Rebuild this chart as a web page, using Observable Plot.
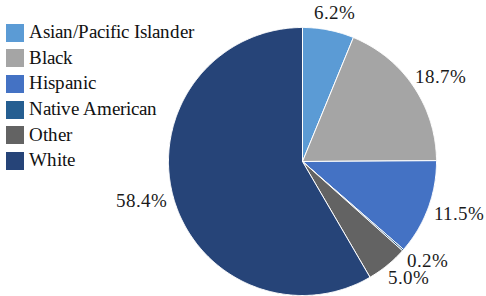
<!DOCTYPE html>
<html>
<head>
<meta charset="utf-8">
<script src="https://cdn.jsdelivr.net/npm/d3@7"></script>
<script src="https://cdn.jsdelivr.net/npm/@observablehq/plot@0.6"></script>
<style>
  @font-face { font-family: 'ChartSerif'; src: local('Liberation Serif'), local('LiberationSerif'), local('Liberation Serif Regular'), local('LiberationSerif-Regular'); }
  html, body { margin: 0; padding: 0; background: #fff; font-family: 'ChartSerif', 'Liberation Serif', serif; }
  #wrap { position: relative; width: 486px; height: 296px; overflow: hidden; }
  #legend { position: absolute; left: 6px; top: 20px; font-family: 'ChartSerif', 'Liberation Serif', serif; font-size: 18.5px; color: #111; }
  .item { display: flex; align-items: center; height: 25.6px; white-space: nowrap; }
  .sw { width: 18px; height: 18px; margin-right: 5px; flex: none; }
  #chart { position: absolute; left: 0; top: 0; }
</style>
</head>
<body>
<div id="wrap">
  <div id="chart"></div>
  <div id="legend"></div>
</div>
<script>
const categories = ["Asian/Pacific Islander", "Black", "Hispanic", "Native American", "Other", "White"];
const shares = [6.2, 18.7, 11.5, 0.2, 5.0, 58.4];
const colors = ["#5B9BD5", "#A5A5A5", "#4472C4", "#255E91", "#636363", "#264478"];
const labels = ["6.2%", "18.7%", "11.5%", "0.2%", "5.0%", "58.4%"];

const FONT = "'ChartSerif', 'Liberation Serif', serif";
const W = 486, H = 296;
const cxPx = 302, cyPx = 161, rPx = 134;
const xDomain = [-cxPx / rPx, (W - cxPx) / rPx];
const yDomain = [-(H - cyPx) / rPx, cyPx / rPx];

const arcs = d3.pie().sort(null).value(d => d.v)(categories.map((c, i) => ({c, v: shares[i], label: labels[i]})));

const pts = [];
for (const a of arcs) {
  const c = a.data.c;
  pts.push({c, x: 0, y: 0});
  const n = Math.max(2, Math.ceil((a.endAngle - a.startAngle) / (Math.PI / 360)));
  for (let k = 0; k <= n; k++) {
    const t = a.startAngle + (a.endAngle - a.startAngle) * k / n;
    pts.push({c, x: Math.sin(t), y: Math.cos(t)});
  }
  pts.push({c, x: 0, y: 0});
}

const lab = arcs.map(a => {
  const m = (a.startAngle + a.endAngle) / 2;
  const s = Math.sin(m), co = Math.cos(m);
  const r = 1 + 10 / rPx;
  return {label: a.data.label, x: r * s + (23 / rPx) * s, y: r * co + (7 / rPx) * co};
});

const plot = Plot.plot({
  width: W, height: H,
  margin: 0,
  x: {domain: xDomain, axis: null},
  y: {domain: yDomain, axis: null},
  color: {domain: categories, range: colors},
  style: {background: "transparent", fontFamily: FONT},
  marks: [
    Plot.line(pts, {x: "x", y: "y", z: "c", fill: "c", stroke: "#fff", strokeWidth: 1, strokeLinejoin: "round", curve: "linear"}),
    Plot.text(lab, {x: "x", y: "y", text: "label", fontSize: 18.5, fill: "#1a1a1a", textAnchor: "middle", fontFamily: FONT})
  ]
});
document.getElementById("chart").appendChild(plot);

const leg = document.getElementById("legend");
categories.forEach((c, i) => {
  const it = document.createElement("div");
  it.className = "item";
  const sw = document.createElement("span");
  sw.className = "sw";
  sw.style.background = colors[i];
  const tx = document.createElement("span");
  tx.textContent = c;
  it.appendChild(sw); it.appendChild(tx);
  leg.appendChild(it);
});
if (document.fonts && document.fonts.load) {
  document.fonts.load("18px ChartSerif").catch(() => {});
}
void document.body.offsetHeight;
</script>
</body>
</html>
